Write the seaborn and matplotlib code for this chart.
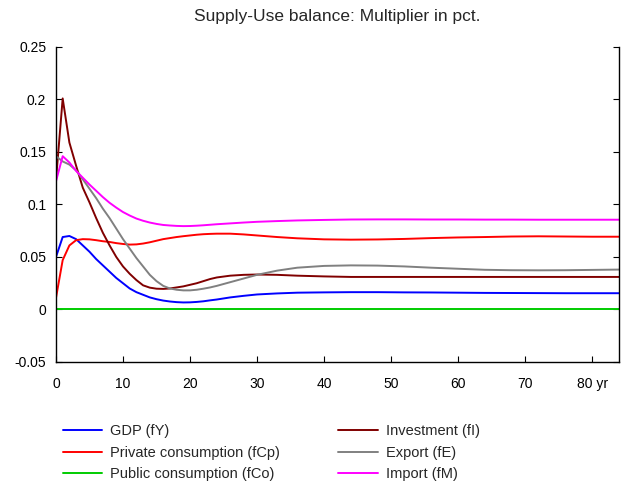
import pandas as pd
import matplotlib
matplotlib.use("Agg")
import matplotlib.pyplot as plt
import seaborn as sns

years = [0, 1, 2, 3, 4, 5, 6, 7, 8, 9, 10, 11, 12, 13, 14, 15, 16, 17, 18, 19,
         20, 21, 22, 23, 24, 26, 28, 30, 33, 36, 40, 44, 48, 52, 56, 60, 64,
         68, 72, 76, 80, 84]

gdp = [0.050, 0.069, 0.070, 0.067, 0.061, 0.055, 0.048, 0.042, 0.036, 0.030,
       0.025, 0.020, 0.0165, 0.014, 0.0115, 0.0098, 0.0085, 0.0076, 0.0070, 0.0067,
       0.0068, 0.0072, 0.0078, 0.0087, 0.0095, 0.0115, 0.013, 0.0143, 0.0153, 0.016,
       0.0163, 0.0165, 0.0165, 0.0163, 0.0162, 0.016, 0.0158, 0.0157, 0.0156, 0.0155,
       0.0155, 0.0155]

private_cons = [0.011, 0.047, 0.061, 0.066, 0.067, 0.0668, 0.066, 0.065, 0.0643, 0.0632,
                0.0624, 0.0618, 0.062, 0.0628, 0.064, 0.0655, 0.067, 0.068, 0.069, 0.0698,
                0.0705, 0.0712, 0.0717, 0.072, 0.0722, 0.0722, 0.0715, 0.0705, 0.069, 0.0678,
                0.0668, 0.0665, 0.0667, 0.0672, 0.068, 0.0686, 0.069, 0.0695, 0.0697, 0.0695,
                0.0693, 0.0693]

public_cons = [0.0] * len(years)

investment = [0.123, 0.201, 0.159, 0.137, 0.116, 0.102, 0.087, 0.073, 0.061, 0.050,
              0.041, 0.034, 0.028, 0.023, 0.0208, 0.0198, 0.0196, 0.020, 0.021, 0.022,
              0.0235, 0.025, 0.027, 0.029, 0.0305, 0.0322, 0.033, 0.0333, 0.033, 0.0322,
              0.0315, 0.031, 0.031, 0.031, 0.031, 0.031, 0.031, 0.031, 0.031, 0.031,
              0.031, 0.031]

export = [0.146, 0.141, 0.138, 0.1325, 0.124, 0.115, 0.106, 0.096, 0.087, 0.077,
          0.067, 0.058, 0.049, 0.041, 0.033, 0.027, 0.0225, 0.020, 0.0188, 0.0182,
          0.0182, 0.0188, 0.0198, 0.021, 0.0225, 0.026, 0.0295, 0.033, 0.037, 0.0398,
          0.0415, 0.042, 0.0418, 0.041, 0.0398, 0.0388, 0.0378, 0.0374, 0.0373, 0.0374,
          0.0377, 0.038]

imports = [0.122, 0.146, 0.140, 0.132, 0.1255, 0.119, 0.113, 0.107, 0.1016, 0.097,
           0.0928, 0.0895, 0.0866, 0.0845, 0.0828, 0.0815, 0.0805, 0.080, 0.0796, 0.0794,
           0.0795, 0.0798, 0.0802, 0.0807, 0.0812, 0.082, 0.0828, 0.0835, 0.0842, 0.0848,
           0.0853, 0.0857, 0.0858, 0.0858, 0.0857, 0.0857, 0.0856, 0.0856, 0.0855, 0.0855,
           0.0855, 0.0855]

names = ["GDP (fY)", "Private consumption (fCp)", "Public consumption (fCo)",
         "Investment (fI)", "Export (fE)", "Import (fM)"]
colors = ["#0000ff", "#ff0000", "#00cc00", "#800000", "#808080", "#ff00ff"]

xticks = [0, 10, 20, 30, 40, 50, 60, 70, 80]
xticklabels = ["0", "10", "20", "30", "40", "50", "60", "70", "80 yr"]
yticks = [-0.05, 0, 0.05, 0.1, 0.15, 0.2, 0.25]
yticklabels = ["-0.05", "0", "0.05", "0.1", "0.15", "0.2", "0.25"]

series = [gdp, private_cons, public_cons, investment, export, imports]
df = pd.concat([pd.DataFrame({"year": years, "value": s, "series": n})
                for n, s in zip(names, series)], ignore_index=True)

sns.set_style("white")
plt.rcParams["font.family"] = ["Liberation Sans", "DejaVu Sans"]

fig = plt.figure(figsize=(6.22, 4.82), dpi=100)
ax = fig.add_axes([0.090, 0.249, 0.905, 0.6535])

sns.lineplot(data=df, x="year", y="value", hue="series", hue_order=names,
             palette=dict(zip(names, colors)), linewidth=1.4, ax=ax, legend=False)

ax.set_xlim(0, 84)
ax.set_ylim(-0.05, 0.25)
ax.set_xticks(xticks)
ax.set_xticklabels(xticklabels)
ax.set_yticks(yticks)
ax.set_yticklabels(yticklabels)
ax.set_xlabel("")
ax.set_ylabel("")
ax.spines["top"].set_visible(False)
for sp in ["left", "right", "bottom"]:
    ax.spines[sp].set_visible(True)
    ax.spines[sp].set_color("black")
    ax.spines[sp].set_linewidth(1.0)
ax.tick_params(axis="both", direction="in", length=4, width=0.8, colors="black",
               labelsize=10)
ax.tick_params(axis="y", right=True, left=True, pad=7)
ax.tick_params(axis="x", bottom=True, top=False, pad=11)

fig.suptitle("Supply-Use balance: Multiplier in pct.", x=0.5425, y=0.982,
             fontsize=12.5)

fig.legend(ax.lines[:len(names)], names, loc="upper left",
           bbox_to_anchor=(0.101, 0.12), ncol=2, frameon=False, fontsize=10.5,
           handlelength=2.7, handletextpad=0.55, columnspacing=4.0,
           labelspacing=0.52, borderpad=0, borderaxespad=0)

fig.savefig("out.png", dpi=100)
